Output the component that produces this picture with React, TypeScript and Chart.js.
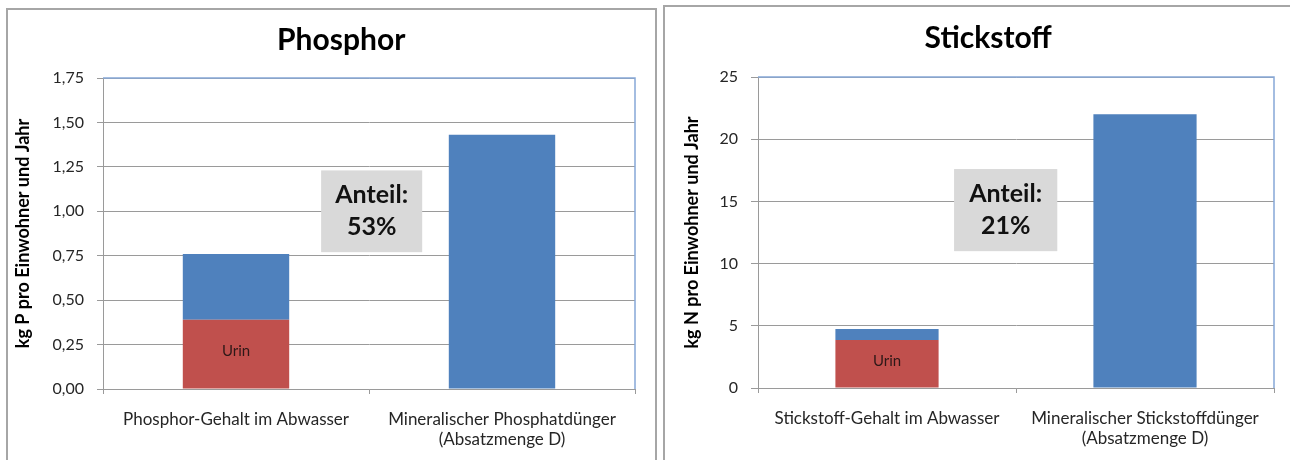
import React, { useEffect, useRef } from 'react';
import { Chart, registerables } from 'chart.js';

Chart.register(...registerables);

const FONT = "Lato, 'Noto Sans', sans-serif";

// ---------- Data: Phosphor ----------
const pTitle = 'Phosphor';
const pCategories = [['Phosphor-Gehalt im Abwasser'], ['Mineralischer Phosphatdünger', '(Absatzmenge D)']];
const pUrin = [0.39, null];
const pRest = [0.37, 1.43];
const pAxisTitle = 'kg P pro Einwohner und Jahr';
const pMax = 1.75;
const pStep = 0.25;
const pShareLines = ['Anteil:', '53%'];
const pShareBox = { x0: 0.32, x1: 0.70, y0: 0.77, y1: 1.23 };

// ---------- Data: Stickstoff ----------
const nTitle = 'Stickstoff';
const nCategories = [['Stickstoff-Gehalt im Abwasser'], ['Mineralischer Stickstoffdünger', '(Absatzmenge D)']];
const nUrin = [3.85, null];
const nRest = [0.9, 22];
const nAxisTitle = 'kg N pro Einwohner und Jahr';
const nMax = 25;
const nStep = 5;
const nShareLines = ['Anteil:', '21%'];
const nShareBox = { x0: 0.26, x1: 0.66, y0: 11.0, y1: 17.6 };

const RED = '#c0504d';
const BLUE = '#4f81bd';
const GRID = '#9a9a9a';
const FRAME_BLUE = '#86a8d8';
const TEXT = '#262626';

type PanelCfg = {
  title: string;
  categories: string[][];
  urin: (number | null)[];
  rest: (number | null)[];
  axisTitle: string;
  max: number;
  step: number;
  decimals: number;
  shareLines: string[];
  shareBox: { x0: number; x1: number; y0: number; y1: number };
  yWidth: number;
  xHeight: number;
  padRight: number;
  padTop: number;
  titleXFrac: number;
  titleY: number;
  axisTitlePad: number;
  tickLen: number;
};

const titlePlugin = {
  id: 'panelTitle',
  afterDraw(chart: any, _args: any, opts: any) {
    const { ctx, width } = chart;
    ctx.save();
    ctx.font = `bold 30px ${FONT}`;
    ctx.fillStyle = '#000';
    ctx.textAlign = 'center';
    ctx.textBaseline = 'middle';
    ctx.fillText(opts.text, width * opts.xFrac, opts.y);
    ctx.restore();
  },
};

const framePlugin = {
  id: 'frameLines',
  afterDatasetsDraw(chart: any) {
    const { ctx, chartArea } = chart;
    ctx.save();
    ctx.strokeStyle = FRAME_BLUE;
    ctx.lineWidth = 1.5;
    ctx.beginPath();
    ctx.moveTo(chartArea.left, chartArea.top);
    ctx.lineTo(chartArea.right, chartArea.top);
    ctx.lineTo(chartArea.right, chartArea.bottom);
    ctx.stroke();
    ctx.restore();
  },
};

const urinLabelPlugin = {
  id: 'urinLabel',
  afterDatasetsDraw(chart: any) {
    const { ctx } = chart;
    const meta = chart.getDatasetMeta(0);
    const ds = chart.data.datasets[0];
    ctx.save();
    ctx.font = `15px ${FONT}`;
    ctx.fillStyle = '#2e1818';
    ctx.textAlign = 'center';
    ctx.textBaseline = 'middle';
    meta.data.forEach((el: any, i: number) => {
      const v = ds.data[i];
      if (v == null) return;
      const { x, y, base } = el.getProps(['x', 'y', 'base'], true);
      ctx.fillText(ds.label, x, (y + base) / 2 - 3);
    });
    ctx.restore();
  },
};

const shareBoxPlugin = {
  id: 'shareBox',
  afterDatasetsDraw(chart: any, _args: any, opts: any) {
    const { ctx, scales } = chart;
    const b = opts.box;
    if (!b) return;
    const x0 = scales.x.getPixelForValue(b.x0);
    const x1 = scales.x.getPixelForValue(b.x1);
    const yTop = scales.y.getPixelForValue(b.y1);
    const yBot = scales.y.getPixelForValue(b.y0);
    ctx.save();
    ctx.fillStyle = '#d9d9d9';
    ctx.fillRect(x0, yTop, x1 - x0, yBot - yTop);
    ctx.fillStyle = '#111';
    ctx.font = `bold 25px ${FONT}`;
    ctx.textAlign = 'center';
    ctx.textBaseline = 'middle';
    const cx = (x0 + x1) / 2;
    const cy = (yTop + yBot) / 2;
    const lines: string[] = opts.lines;
    const lh = 32;
    lines.forEach((t, i) => {
      ctx.fillText(t, cx, cy + (i - (lines.length - 1) / 2) * lh);
    });
    ctx.restore();
  },
};

function BarPanel({ cfg }: { cfg: PanelCfg }) {
  const ref = useRef<HTMLCanvasElement | null>(null);
  useEffect(() => {
    if (!ref.current) return;
    const chart = new Chart(ref.current, {
      type: 'bar',
      data: {
        labels: cfg.categories as any,
        datasets: [
          {
            label: 'Urin',
            data: cfg.urin as any,
            backgroundColor: RED,
            stack: 's',
            barPercentage: 0.4,
            categoryPercentage: 1,
          },
          {
            label: 'Rest',
            data: cfg.rest as any,
            backgroundColor: BLUE,
            stack: 's',
            barPercentage: 0.4,
            categoryPercentage: 1,
          },
        ],
      },
      options: {
        animation: false,
        responsive: true,
        maintainAspectRatio: false,
        layout: { padding: { left: 0, right: cfg.padRight, top: cfg.padTop, bottom: 0 } },
        plugins: {
          legend: { display: false },
          tooltip: { enabled: false },
          title: { display: false },
          panelTitle: { text: cfg.title, xFrac: cfg.titleXFrac, y: cfg.titleY },
          shareBox: { box: cfg.shareBox, lines: cfg.shareLines },
        } as any,
        scales: {
          x: {
            stacked: true,
            grid: {
              display: true,
              drawOnChartArea: false,
              drawTicks: true,
              tickLength: 5,
              color: GRID,
              offset: true,
            },
            border: { display: true, color: GRID, width: 1 },
            ticks: {
              color: TEXT,
              font: { family: FONT, size: 17, lineHeight: 1.2 },
              padding: 15,
              maxRotation: 0,
              autoSkip: false,
            },
            afterFit: (s: any) => {
              s.height = cfg.xHeight;
            },
          },
          y: {
            stacked: true,
            min: 0,
            max: cfg.max,
            ticks: {
              stepSize: cfg.step,
              color: TEXT,
              font: { family: FONT, size: 16 },
              padding: 13,
              callback: (v: any) => Number(v).toFixed(cfg.decimals).replace('.', ','),
            },
            grid: { color: GRID, lineWidth: 1, tickLength: cfg.tickLen, drawTicks: true },
            border: { display: true, color: GRID, width: 1 },
            title: {
              display: true,
              text: cfg.axisTitle,
              color: '#000',
              font: { family: FONT, size: 18, weight: 'bold', lineHeight: 1.2 },
              padding: { top: cfg.axisTitlePad, bottom: 0 },
            },
            afterFit: (s: any) => {
              s.width = cfg.yWidth;
            },
          },
        },
      },
      plugins: [framePlugin, urinLabelPlugin, shareBoxPlugin, titlePlugin],
    });
    return () => chart.destroy();
  }, [cfg]);
  return <canvas ref={ref} />;
}

const leftCfg: PanelCfg = {
  title: pTitle,
  categories: pCategories,
  urin: pUrin,
  rest: pRest,
  axisTitle: pAxisTitle,
  max: pMax,
  step: pStep,
  decimals: 2,
  shareLines: pShareLines,
  shareBox: pShareBox,
  yWidth: 95,
  xHeight: 71,
  padRight: 20,
  padTop: 68,
  titleXFrac: 0.515,
  titleY: 30,
  axisTitlePad: 4,
  tickLen: 6,
};

const rightCfg: PanelCfg = {
  title: nTitle,
  categories: nCategories,
  urin: nUrin,
  rest: nRest,
  axisTitle: nAxisTitle,
  max: nMax,
  step: nStep,
  decimals: 0,
  shareLines: nShareLines,
  shareBox: nShareBox,
  yWidth: 92,
  xHeight: 72,
  padRight: 14,
  padTop: 69,
  titleXFrac: 0.518,
  titleY: 30,
  axisTitlePad: 15,
  tickLen: 7,
};

export default function App() {
  return (
    <div
      style={{
        position: 'fixed',
        left: 0,
        top: 0,
        width: 1290,
        height: 460,
        background: '#fff',
        overflow: 'hidden',
        fontFamily: FONT,
      }}
    >
      <div
        style={{
          position: 'absolute',
          left: 6,
          top: 8,
          width: 651,
          height: 480,
          border: '2px solid #a6a6a6',
          boxSizing: 'border-box',
        }}
      />
      <div
        style={{
          position: 'absolute',
          left: 663,
          top: 5,
          width: 660,
          height: 480,
          border: '2px solid #a6a6a6',
          boxSizing: 'border-box',
        }}
      />
      <div style={{ position: 'absolute', left: 8, top: 10, width: 647, height: 450 }}>
        <BarPanel cfg={leftCfg} />
      </div>
      <div style={{ position: 'absolute', left: 666, top: 8, width: 622, height: 452 }}>
        <BarPanel cfg={rightCfg} />
      </div>
    </div>
  );
}
